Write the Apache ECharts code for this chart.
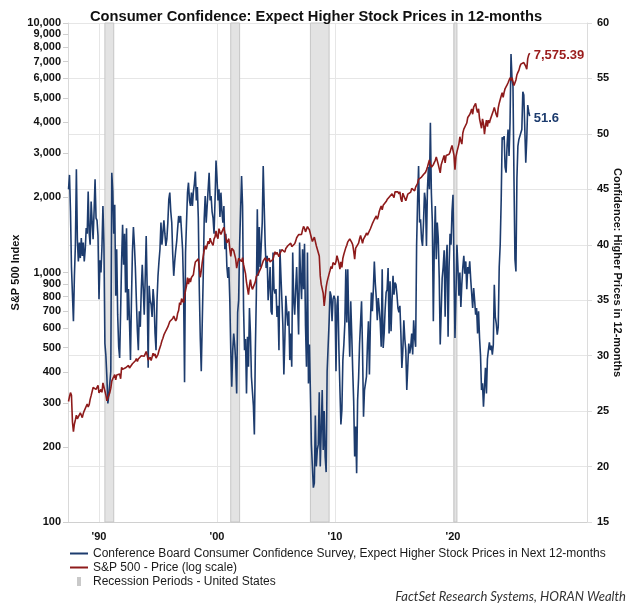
<!DOCTYPE html>
<html><head><meta charset="utf-8">
<script src="https://cdn.jsdelivr.net/npm/echarts@6/dist/echarts.min.js"></script>
<style>html,body{margin:0;padding:0;background:#fff}#c{width:632px;height:608px}</style>
</head><body><div id="c"></div>
<script>
const titleText = 'Consumer Confidence: Expect Higher Stock Prices in 12-months';
const sourceText = 'FactSet Research Systems, HORAN Wealth';
const confName = 'Conference Board Consumer Confidence Survey, Expect Higher Stock Prices in Next 12-months';
const spName = 'S&P 500 - Price (log scale)';
const recName = 'Recession Periods - United States';
const leftAxisName = 'S&P 500 Index';
const rightAxisName = 'Confidence: Higher Prices in 12-months';

// monthly data, first value = June 1987
const startYear = 1987, startMonth = 6;

const sp500 = [
  304, 318, 330, 322, 252, 230, 247,
  257, 268, 259, 261, 262, 274, 272, 262, 272, 279, 274, 278,
  297, 289, 295, 310, 321, 318, 346, 351, 349, 340, 346, 353,
  329, 332, 340, 331, 361, 358, 356, 323, 306, 304, 322, 330,
  344, 367, 375, 375, 390, 371, 388, 395, 388, 392, 375, 417,
  409, 413, 404, 415, 415, 408, 424, 414, 418, 419, 431, 436,
  439, 443, 452, 440, 450, 451, 448, 464, 459, 468, 462, 466,
  482, 467, 446, 451, 457, 444, 458, 475, 463, 472, 454, 459,
  470, 487, 501, 515, 533, 545, 562, 562, 584, 582, 605, 616,
  636, 640, 646, 654, 669, 671, 640, 652, 687, 705, 757, 741,
  786, 791, 757, 801, 848, 885, 954, 899, 947, 915, 955, 970,
  980, 1049, 1102, 1112, 1091, 1134, 1121, 957, 1017, 1099, 1164, 1229,
  1280, 1238, 1286, 1335, 1302, 1373, 1329, 1320, 1283, 1363, 1389, 1469,
  1394, 1366, 1499, 1452, 1421, 1455, 1431, 1518, 1437, 1429, 1315, 1320,
  1366, 1240, 1160, 1249, 1256, 1224, 1211, 1134, 1041, 1060, 1139, 1148,
  1130, 1107, 1147, 1077, 1067, 990, 912, 916, 815, 886, 936, 880,
  856, 841, 848, 917, 964, 975, 990, 1008, 996, 1051, 1058, 1112,
  1131, 1145, 1126, 1107, 1121, 1141, 1102, 1104, 1115, 1130, 1174, 1212,
  1181, 1204, 1181, 1157, 1192, 1191, 1234, 1220, 1229, 1207, 1249, 1248,
  1280, 1281, 1295, 1311, 1270, 1270, 1277, 1304, 1336, 1378, 1401, 1418,
  1438, 1407, 1421, 1482, 1531, 1503, 1455, 1474, 1527, 1549, 1481, 1468,
  1379, 1331, 1323, 1386, 1400, 1280, 1267, 1283, 1165, 969, 896, 903,
  826, 735, 798, 873, 919, 919, 987, 1021, 1057, 1036, 1096, 1115,
  1074, 1104, 1169, 1187, 1089, 1031, 1102, 1049, 1141, 1183, 1181, 1258,
  1286, 1327, 1326, 1364, 1345, 1321, 1292, 1219, 1131, 1253, 1247, 1258,
  1312, 1366, 1408, 1398, 1310, 1362, 1379, 1407, 1441, 1412, 1416, 1426,
  1498, 1515, 1569, 1598, 1631, 1606, 1686, 1633, 1682, 1757, 1806, 1848,
  1783, 1859, 1872, 1884, 1924, 1960, 1931, 2003, 1972, 2018, 2068, 2059,
  1995, 2105, 2068, 2086, 2107, 2063, 2104, 1972, 1920, 2079, 2080, 2044,
  1940, 1932, 2060, 2065, 2097, 2099, 2174, 2171, 2168, 2126, 2199, 2239,
  2279, 2364, 2363, 2384, 2412, 2423, 2470, 2472, 2519, 2575, 2648, 2674,
  2824, 2714, 2641, 2648, 2705, 2718, 2816, 2902, 2914, 2712, 2760, 2507,
  2704, 2784, 2834, 2946, 2752, 2942, 2980, 2926, 2977, 3038, 3141, 3231,
  3226, 2954, 2585, 2912, 3044, 3100, 3271, 3500, 3363, 3270, 3622, 3756,
  3714, 3811, 3973, 4181, 4204, 4298, 4395, 4523, 4308, 4605, 4567, 4766,
  4516, 4374, 4530, 4132, 4132, 3785, 4130, 3955, 3586, 3872, 4080, 3840,
  4077, 3970, 4109, 4169, 4180, 4450, 4589, 4508, 4288, 4194, 4568, 4770,
  4846, 5096, 5254, 5036, 5278, 5460, 5522, 5648, 5762, 5705, 6032, 5882,
  6041, 5955, 5612, 5569, 5912, 6205, 6339, 6460, 6688, 6840, 6849, 6845,
  6940, 6880, 6700, 6530, 7200, 7450, 7575.39
];

const confidence = [
  45, 46.3, 43, 38, 35.5, 33.1, 37.2,
  40, 46.8, 40.5, 38.5, 40.2, 38.8, 40.6, 39, 40.2, 38.5, 39.6, 41.5,
  41, 44.8, 41.1, 40, 43.9, 42.1, 40.5, 43, 45.9, 42.4, 42.2, 40.8,
  35.1, 38.6, 37.5, 39.8, 43.5, 40, 31.1, 30, 28.1, 25.7, 26.5, 27.5,
  28.6, 46.5, 44.8, 41, 43.6, 35.4, 39.6, 33.7, 30.8, 29.8, 34, 38.6,
  41.8, 38.2, 41, 35.7, 41.5, 33.2, 36, 33.1, 29.6, 35, 39.4, 41.6,
  40, 37.9, 35, 32.3, 30.5, 34, 32.6, 36, 38.2, 36, 33.7, 37,
  40.8, 36, 28.9, 36.3, 35, 34.6, 33.5, 36, 34.9, 32, 30.5, 35,
  37.2, 38.5, 39.6, 42, 40, 41.1, 42.2, 41, 39.9, 40.5, 42, 44.1,
  44.7, 43, 42, 39.1, 37.2, 38.5, 39.5, 40.3, 41.5, 42.6, 42, 42.6,
  42.6, 39.6, 36, 27.6, 39.3, 42, 44.7, 45.6, 44, 43.5, 44.7, 43.5,
  44.8, 45.5, 46.6, 44, 45.2, 42.4, 36, 31.6, 28.6, 33, 37.2, 42.4,
  44.4, 42, 43.5, 45, 46.5, 44, 44.4, 43, 42.4, 41, 44, 47.6,
  46, 44, 45, 42.5, 44.7, 43, 42, 43.5, 39.6, 41, 38.1, 37,
  38, 35.1, 30.5, 27.2, 30.5, 32, 31, 29.5, 26.6, 33.9, 35, 40,
  40, 46.2, 43.5, 34.3, 30.5, 31.5, 26.6, 31.7, 29, 34.3, 32, 28.1,
  28, 25.5, 22.9, 30.5, 35.4, 43.2, 37.2, 41.6, 38, 40, 42, 47.1,
  43.5, 40, 37.9, 39, 35, 36.3, 38, 34, 33.7, 39.3, 36, 35.6,
  36, 33.5, 34.5, 30.5, 39.6, 37.2, 35, 32.7, 28.3, 31.5, 35.4, 34,
  32.7, 34, 29.6, 32, 29, 39.3, 35, 33.7, 36, 38, 35, 31.9,
  40.2, 37, 35.1, 39.6, 36, 40.1, 32.7, 29, 39.3, 27.5, 31, 26.6,
  22, 20, 18.1, 18.5, 24.6, 20, 21.5, 22, 26.7, 20, 23.3, 26.9,
  21.5, 25, 20.9, 19.5, 28.6, 28.5, 33, 35.8, 35.4, 33.1, 35.1, 35.4,
  35.1, 28.6, 34.5, 35.4, 30.5, 27, 23.8, 25.1, 29.6, 31, 32.9, 37.8,
  33, 37.8, 33, 29.9, 34.9, 32, 28.7, 25.9, 20.9, 23.6, 19.4, 26,
  28, 31.1, 33, 34.9, 30.5, 24.5, 26.9, 27.5, 28.1, 31, 33.1, 28.3,
  33, 35.7, 34, 36, 38.5, 36.5, 35.2, 33.2, 35.2, 34.2, 33, 30.8,
  37.8, 30.7, 32, 34.2, 35.7, 36, 37.9, 32, 36.7, 32.2, 35, 37.2,
  35.5, 36.6, 36.4, 35.5, 34.3, 33.9, 34.5, 32, 28.9, 30.5, 33.2, 31.5,
  30.5, 26.9, 29, 31.1, 30.2, 30.8, 32, 30.1, 33.2, 31.6, 30.8, 40,
  44, 47.1, 42, 42.3, 40.5, 39.9, 42, 44.7, 44, 39.9, 45, 47,
  45, 51, 44.7, 42, 33.1, 40, 43.5, 38.7, 42, 40.6, 37, 31,
  31, 37, 38, 39.5, 33.5, 38.5, 40, 31.7, 38, 41, 40, 43,
  44.5, 38, 31.6, 35.5, 40, 38, 35.4, 37.5, 34.4, 36.5, 38, 39,
  37.4, 38.5, 36, 38, 37.4, 38.5, 36.9, 36.9, 34.3, 36.1, 35, 33.7,
  34.3, 32, 34, 31.6, 30, 26.9, 27.5, 25.4, 25.4, 28.9, 26.6, 29.7,
  30.5, 31.2, 30.5, 30.9, 30.1, 31, 36.4, 33.5, 32.9, 31.9, 32.6, 38,
  40, 44, 49.7, 49.5, 49.8, 47, 46.5, 49, 50.4, 48, 51, 57.2,
  55, 54.3, 46, 38.7, 37.6, 46, 48.9, 49.5, 49.8, 50.1, 50.4, 53.8,
  53.5, 50.5, 47.4, 49.5, 52.6, 52, 51.6
];

const recessionStarts = ['1990-07', '2001-03', '2007-12', '2020-02'];
const recessionEnds = ['1991-03', '2001-11', '2009-06', '2020-04'];

const xLabelYears = [1990, 2000, 2010, 2020];
const leftTickValues = [100, 200, 300, 400, 500, 600, 700, 800, 900, 1000, 2000, 3000, 4000, 5000, 6000, 7000, 8000, 9000, 10000];

const blue = '#1d3c6e', red = '#8e1b1b';
const FONT = '"Liberation Sans", Arial, sans-serif';

function monthTime(i) { return startYear + (startMonth - 1 + i) / 12; }
function parseStart(s) { const [y, m] = s.split('-').map(Number); return y + (m - 1) / 12; }
function parseEnd(s) { const [y, m] = s.split('-').map(Number); return y + m / 12; }

const spData = sp500.map((v, i) => [monthTime(i), v]);
const confData = confidence.map((v, i) => [monthTime(i), v]);
const recAreas = recessionStarts.map((s, i) => [{ xAxis: parseStart(s) }, { xAxis: parseEnd(recessionEnds[i]) }]);

const chart = echarts.init(document.getElementById('c'), null, { renderer: 'canvas' });
const labelStyle = { color: '#111', fontWeight: 'bold', fontSize: 11, fontFamily: FONT };
const lineIcon = 'path://M0,0H18V2H0Z';

chart.setOption({
  animation: false,
  backgroundColor: '#fff',
  title: [
    { text: titleText, left: 'center', top: 4,
      textStyle: { fontFamily: FONT, fontWeight: 'bold', fontSize: 14.7, color: '#111' } },
    { text: sourceText, right: 1, bottom: 0,
      textStyle: { fontFamily: 'Lato, "Open Sans", sans-serif', fontStyle: 'italic', fontWeight: 'normal', fontSize: 13, color: '#333' } }
  ],
  grid: { left: 68, right: 45, top: 23, bottom: 86, containLabel: false, outerBoundsMode: 'none' },
  legend: {
    orient: 'vertical', left: 65, top: 542, itemWidth: 18, itemHeight: 9, itemGap: 1,
    textStyle: { fontFamily: FONT, fontSize: 12, color: '#1a1a1a', lineHeight: 13 },
    selectedMode: false,
    data: [
      { name: confName, icon: lineIcon },
      { name: spName, icon: lineIcon },
      { name: recName, icon: 'path://M0,0H4V9H0Z' }
    ]
  },
  xAxis: {
    type: 'value', min: 1987.373, max: 2031.356,
    axisLine: { show: true, lineStyle: { color: '#d0d0d0', width: 1 } },
    axisTick: { show: false, customValues: xLabelYears },
    axisLabel: Object.assign({ customValues: xLabelYears, margin: 9,
      formatter: v => "'" + String(Math.round(v)).slice(2) }, labelStyle),
    splitLine: { show: true, lineStyle: { color: '#e6e6e6', width: 1 } }
  },
  yAxis: [
    {
      type: 'log', logBase: 10, min: 100, max: 10000, position: 'left',
      name: leftAxisName, nameLocation: 'middle', nameGap: 47, nameRotate: 90, nameMoveOverlap: false,
      nameTextStyle: { fontFamily: FONT, fontWeight: 'bold', fontSize: 11, color: '#111' },
      axisLine: { show: true, lineStyle: { color: '#d9d9d9' } },
      axisTick: { show: true, length: 5, customValues: leftTickValues, lineStyle: { color: '#cfcfcf' } },
      axisLabel: Object.assign({ customValues: leftTickValues, margin: 7,
        formatter: v => Math.round(v).toLocaleString('en-US') }, labelStyle),
      splitLine: { show: false }
    },
    {
      type: 'value', min: 15, max: 60, interval: 5, position: 'right',
      name: rightAxisName, nameLocation: 'middle', nameGap: 25, nameRotate: -90, nameMoveOverlap: false,
      nameTextStyle: { fontFamily: FONT, fontWeight: 'bold', fontSize: 11, color: '#111' },
      axisLine: { show: true, lineStyle: { color: '#dcdcdc' } },
      axisTick: { show: true, length: 5, lineStyle: { color: '#dcdcdc' } },
      axisLabel: Object.assign({ margin: 10 }, labelStyle),
      splitLine: { show: true, lineStyle: { color: '#e6e6e6', width: 1 } }
    }
  ],
  series: [
    {
      name: recName, type: 'line', data: [], xAxisIndex: 0, yAxisIndex: 1,
      color: '#c9c9c9', itemStyle: { color: '#c9c9c9' }, symbol: 'none',
      markArea: {
        silent: true,
        itemStyle: { color: '#e3e3e3', borderColor: '#c6c6c6', borderWidth: 1 },
        data: recAreas
      }
    },
    {
      name: confName, type: 'line', data: confData, yAxisIndex: 1,
      symbol: 'none', color: blue,
      lineStyle: { color: blue, width: 1.6 },
      endLabel: { show: true, formatter: p => p.value[1].toFixed(1), color: blue,
        fontWeight: 'bold', fontSize: 13, fontFamily: FONT, distance: 4, offset: [0, 2] }
    },
    {
      name: spName, type: 'line', data: spData, yAxisIndex: 0,
      symbol: 'none', color: red,
      lineStyle: { color: red, width: 1.6 },
      endLabel: { show: true, formatter: p => p.value[1].toLocaleString('en-US', { minimumFractionDigits: 2, maximumFractionDigits: 2 }),
        color: '#9a1c1c', fontWeight: 'bold', fontSize: 13, fontFamily: FONT, distance: 4, offset: [0, 2] }
    }
  ]
});
</script>
</body></html>
